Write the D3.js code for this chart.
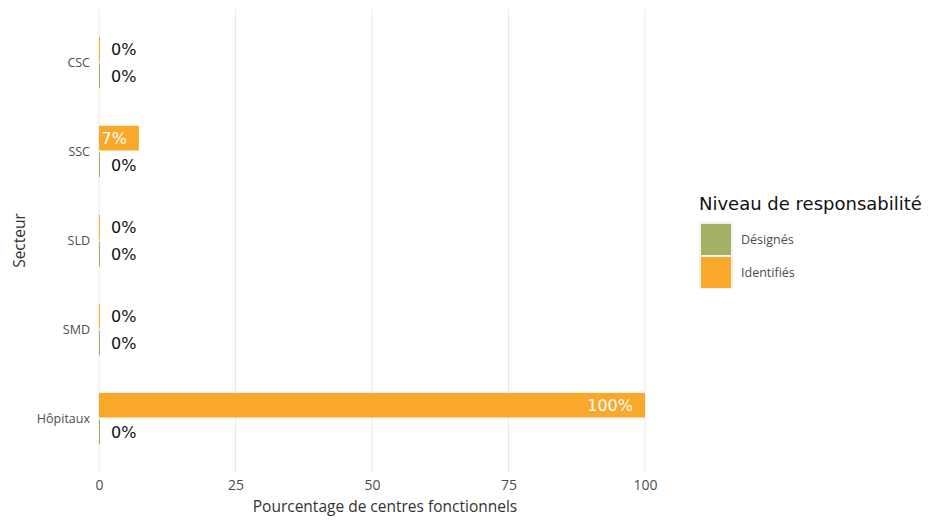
<!DOCTYPE html>
<html>
<head>
<meta charset="utf-8">
<script src="https://cdn.jsdelivr.net/npm/d3@7"></script>
<style>
  body { margin: 0; background: #fff; }
  .tick text { fill: #4d4d4d; }
</style>
</head>
<body>
<div id="chart"></div>
<script>
let width = 944,
    height = 523,
    margin = ({ top: 9, right: 299, bottom: 51, left: 99 });

// data
const sectors = ["CSC", "SSC", "SLD", "SMD", "Hôpitaux"];
const levels = ["Identifiés", "Désignés"];
const identifies = [0, 7.3, 0, 0, 100];
const designes = [0, 0, 0, 0, 0];
const xTicks = [0, 25, 50, 75, 100];
const colors = { "Désignés": "#a6b064", "Identifiés": "#f9a82a" };
const legendOrder = ["Désignés", "Identifiés"];

let data = [];
sectors.forEach((s, i) => {
  data.push({ sector: s, level: "Identifiés", value: identifies[i] });
  data.push({ sector: s, level: "Désignés", value: designes[i] });
});

const svg = d3.select("#chart")
  .append("svg")
  .attr("width", width)
  .attr("height", height);

let x = d3.scaleLinear()
  .domain([0, 100])
  .range([margin.left, width - margin.right]);

let y = d3.scalePoint()
  .domain(sectors)
  .range([margin.top, height - margin.bottom])
  .padding(0.6);

let dodge = y.step() * 0.6;
let yInner = d3.scaleBand()
  .domain(levels)
  .range([-dodge / 2, dodge / 2]);

// grid
svg.append("g")
  .selectAll("line")
  .data(xTicks)
  .join("line")
  .attr("x1", d => x(d)).attr("x2", d => x(d))
  .attr("y1", margin.top).attr("y2", height - margin.bottom)
  .attr("stroke", "#ebebeb")
  .attr("stroke-width", 1.1);

// x axis (no line, no ticks)
svg.append("g")
  .attr("transform", `translate(0,${height - margin.bottom})`)
  .call(d3.axisBottom(x).tickValues(xTicks).tickSize(0).tickPadding(8))
  .call(g => g.select(".domain").remove())
  .selectAll("text")
  .attr("font-family", "Open Sans")
  .attr("font-size", 14);

// y axis
svg.append("g")
  .attr("transform", `translate(${margin.left},0)`)
  .call(d3.axisLeft(y).tickSize(0).tickPadding(9))
  .call(g => g.select(".domain").remove())
  .selectAll("text")
  .attr("font-family", "Open Sans")
  .attr("font-size", 12.5);

// bars
svg.append("g")
  .selectAll("rect")
  .data(data)
  .join("rect")
  .attr("x", x(0))
  .attr("y", d => y(d.sector) + yInner(d.level) + 1)
  .attr("width", d => Math.max(1, x(d.value) - x(0)))
  .attr("height", yInner.bandwidth() - 2)
  .attr("fill", d => colors[d.level]);

// value labels
svg.append("g")
  .selectAll("text")
  .data(data)
  .join("text")
  .attr("x", d => d.value > 0 ? x(d.value) - 12 : x(0) + 12)
  .attr("y", d => y(d.sector) + yInner(d.level) + yInner.bandwidth() / 2)
  .attr("dy", "0.36em")
  .attr("text-anchor", d => d.value > 0 ? "end" : "start")
  .attr("font-family", "DejaVu Sans")
  .attr("font-size", 16)
  .attr("fill", d => d.value > 0 ? "#fff" : "#111")
  .text(d => Math.round(d.value) + "%");

// axis titles
svg.append("text")
  .attr("x", 385)
  .attr("y", 512)
  .attr("text-anchor", "middle")
  .attr("font-family", "Open Sans")
  .attr("font-size", 15.5)
  .attr("fill", "#333")
  .text("Pourcentage de centres fonctionnels");

svg.append("text")
  .attr("transform", `translate(20,${(margin.top + height - margin.bottom) / 2}) rotate(-90)`)
  .attr("text-anchor", "middle")
  .attr("dy", "0.35em")
  .attr("font-family", "Open Sans")
  .attr("font-size", 15.5)
  .attr("fill", "#333")
  .text("Secteur");

// legend
let legend = svg.append("g").attr("transform", "translate(699,0)");
legend.append("text")
  .attr("x", 0).attr("y", 210)
  .attr("font-family", "DejaVu Sans")
  .attr("font-size", 18)
  .attr("fill", "#111")
  .text("Niveau de responsabilité");

legend.append("rect")
  .attr("x", 0).attr("y", 222)
  .attr("width", 34).attr("height", 67)
  .attr("fill", "#f2f2f2");

legendOrder.forEach((lv, i) => {
  legend.append("rect")
    .attr("x", 2).attr("y", 224 + i * 33)
    .attr("width", 30).attr("height", 31)
    .attr("fill", colors[lv]);
  legend.append("text")
    .attr("x", 42).attr("y", 239.5 + i * 33)
    .attr("dy", "0.35em")
    .attr("font-family", "Open Sans")
    .attr("font-size", 12.5)
    .attr("fill", "#4d4d4d")
    .text(lv);
});
</script>
</body>
</html>
